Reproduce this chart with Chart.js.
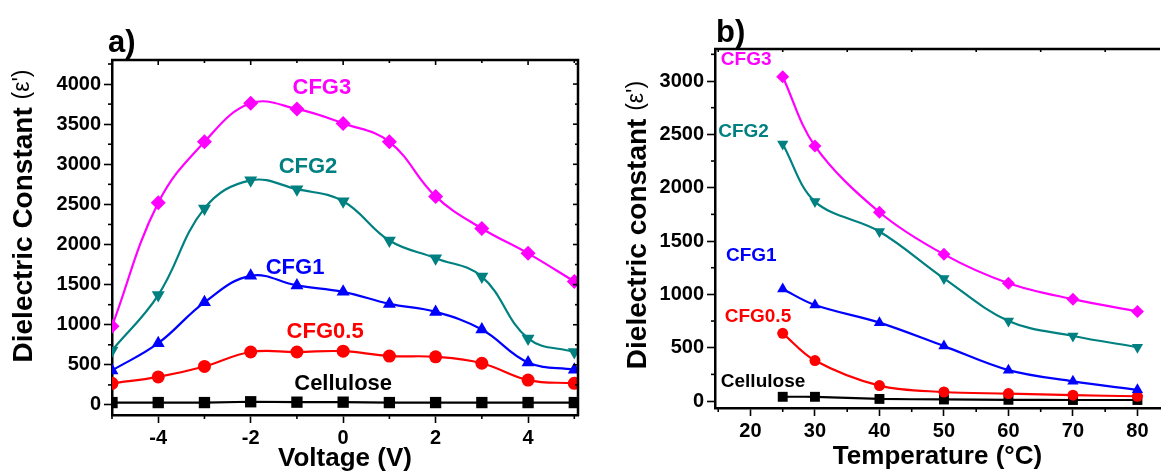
<!DOCTYPE html>
<html>
<head>
<meta charset="utf-8">
<script src="https://cdn.jsdelivr.net/npm/chart.js@4.4.1/dist/chart.umd.min.js"></script>
<style>
  body { margin: 0; background: #fff; width: 1167px; height: 474px; overflow: hidden; position: relative;
         font-family: "Liberation Sans", Arial, sans-serif; }
  .pane { position: absolute; top: 0; }
  .tag { position: absolute; font-weight: bold; font-size: 31px; line-height: 1; color: #000; }
</style>
</head>
<body>
<div class="pane" style="left:0"><canvas id="voltCanvas" width="600" height="474"></canvas></div>
<div class="pane" style="left:600px"><canvas id="tempCanvas" width="567" height="474"></canvas></div>
<div class="tag" style="left:108px;top:26px">a)</div>
<div class="tag" style="left:716px;top:16px">b)</div>
<script>
// permittivity vs bias voltage
const voltages = [-5, -4, -3, -2, -1, 0, 1, 2, 3, 4, 5];
const voltTicks = [-4, -2, 0, 2, 4];
const voltMinor = [-5, -3, -1, 1, 3, 5];
const epsTicksV = [0, 500, 1000, 1500, 2000, 2500, 3000, 3500, 4000];
const epsMinorV = [250, 750, 1250, 1750, 2250, 2750, 3250, 3750, 4250];
const cfg3V = [980, 2520, 3280, 3760, 3690, 3510, 3280, 2600, 2200, 1890, 1540];
const cfg2V = [680, 1370, 2450, 2800, 2690, 2540, 2050, 1830, 1600, 830, 660];
const cfg1V = [430, 770, 1280, 1610, 1490, 1410, 1260, 1160, 940, 530, 440];
const cfg05V = [270, 350, 480, 660, 660, 670, 610, 600, 520, 310, 270];
const celluloseV = [30, 30, 30, 40, 35, 35, 30, 30, 30, 30, 30];

// permittivity vs temperature
const temps = [25, 30, 40, 50, 60, 70, 80];
const tempTicks = [20, 30, 40, 50, 60, 70, 80];
const tempMinor = [15, 25, 35, 45, 55, 65, 75];
const epsTicksT = [0, 500, 1000, 1500, 2000, 2500, 3000];
const epsMinorT = [250, 750, 1250, 1750, 2250, 2750, 3250];
const cfg3T = [3040, 2390, 1770, 1375, 1105, 955, 840];
const cfg2T = [2410, 1870, 1590, 1150, 750, 610, 505];
const cfg1T = [1050, 900, 735, 515, 290, 185, 105];
const cfg05T = [635, 380, 145, 85, 70, 55, 45];
const celluloseT = [40, 40, 20, 15, 12, 10, 10];

const FONT = '"Liberation Sans", Arial, sans-serif';
const MAGENTA = '#ff00ff', TEAL = '#008080', BLUE = '#0000ff', RED = '#ff0000', BLACK = '#000000';

function serie(xs, ys, cor, ponto, raio, tensao, giro) {
  return {
    data: xs.map((x, i) => ({ x: x, y: ys[i] })),
    borderColor: cor,
    backgroundColor: cor,
    borderWidth: 2.2,
    pointStyle: ponto,
    pointRadius: raio,
    pointRotation: giro || 0,
    pointBorderWidth: 0,
    tension: tensao,
  };
}

// frame lines on top/right plus minor and mirrored ticks
const molduraPlugin = {
  id: 'moldura',
  afterDraw(chart, args, opts) {
    const { ctx, chartArea: a, scales } = chart;
    const x = scales.x, y = scales.y;
    ctx.save();
    ctx.strokeStyle = '#000';
    ctx.lineWidth = 2.5;
    ctx.beginPath();
    ctx.moveTo(a.left - 1, a.top);
    ctx.lineTo(a.right, a.top);
    if (opts.direita) ctx.lineTo(a.right, a.bottom + 1);
    ctx.stroke();
    ctx.lineWidth = 1.6;
    const risco = (x1, y1, x2, y2) => { ctx.beginPath(); ctx.moveTo(x1, y1); ctx.lineTo(x2, y2); ctx.stroke(); };
    opts.xMaior.forEach(v => { const p = x.getPixelForValue(v); risco(p, a.top, p, a.top + 5); });
    opts.xMenor.forEach(v => {
      const p = x.getPixelForValue(v);
      if (p < a.left || p > a.right) return;
      risco(p, a.bottom, p, a.bottom + 4);
      risco(p, a.top, p, a.top + 3);
    });
    opts.yMenor.forEach(v => {
      const p = y.getPixelForValue(v);
      if (p < a.top) return;
      risco(a.left, p, a.left - 4, p);
      if (opts.direita) risco(a.right, p, a.right - 3, p);
    });
    if (opts.direita) opts.yMaior.forEach(v => { const p = y.getPixelForValue(v); risco(a.right, p, a.right - 5, p); });
    ctx.restore();
  }
};

// curve names written next to each curve
const rotulosPlugin = {
  id: 'rotulos',
  afterDatasetsDraw(chart, args, opts) {
    const { ctx, scales: { x, y } } = chart;
    ctx.save();
    ctx.font = 'bold ' + opts.tamanho + 'px ' + FONT;
    ctx.textBaseline = 'middle';
    ctx.textAlign = opts.alinhar;
    opts.itens.forEach(r => {
      ctx.fillStyle = r.cor;
      ctx.fillText(r.texto, x.getPixelForValue(r.x), y.getPixelForValue(r.y));
    });
    ctx.restore();
  }
};

// rotated y title: bold name followed by a lighter (ε')
const tituloYPlugin = {
  id: 'tituloY',
  afterDraw(chart, args, opts) {
    const ctx = chart.ctx;
    ctx.save();
    ctx.translate(opts.cx, opts.cy);
    ctx.rotate(-Math.PI / 2);
    ctx.fillStyle = '#000';
    ctx.textBaseline = 'middle';
    const f1 = 'bold ' + opts.tamanho + 'px ' + FONT;
    const f2 = opts.tamanho2 + 'px ' + FONT;
    ctx.font = f1;
    const w1 = ctx.measureText(opts.texto).width;
    ctx.font = f2;
    const w2 = ctx.measureText(opts.sufixo).width;
    let x0 = -(w1 + w2) / 2;
    ctx.font = f1;
    ctx.textAlign = 'left';
    ctx.fillText(opts.texto, x0, 0);
    ctx.font = f2;
    ctx.fillText(opts.sufixo, x0 + w1, -1);
    ctx.restore();
  }
};

function eixo(min, max, valores, extra) {
  return Object.assign({
    type: 'linear',
    min: min,
    max: max,
    afterBuildTicks: (s) => { s.ticks = valores.map(v => ({ value: v })); },
    grid: { drawOnChartArea: false, color: '#000', tickLength: 8, tickWidth: 1.6 },
    border: { display: true, color: '#000', width: 2.5 },
    ticks: {
      color: '#000', font: { family: FONT, size: 20, weight: 'bold' }, padding: 3, maxRotation: 0,
      callback: (v) => String(v),
    },
  }, extra);
}

new Chart(document.getElementById('voltCanvas'), {
  type: 'line',
  data: {
    datasets: [
      serie(voltages, cfg3V, MAGENTA, 'rectRot', 7.5, 0.4),
      serie(voltages, cfg2V, TEAL, 'triangle', 7.5, 0.4, 180),
      serie(voltages, cfg1V, BLUE, 'triangle', 7.5, 0.4),
      serie(voltages, cfg05V, RED, 'circle', 6.5, 0.4),
      serie(voltages, celluloseV, BLACK, 'rect', 8, 0),
    ]
  },
  options: {
    responsive: false,
    animation: false,
    events: [],
    layout: { padding: { top: 60, right: 22, left: 0, bottom: 0 } },
    scales: {
      x: eixo(-5, 5.08, voltTicks, {
        afterFit: (s) => { s.height = 59; },
        title: { display: true, text: 'Voltage (V)', color: '#000', font: { family: FONT, size: 26, weight: 'bold' }, padding: { top: 0, bottom: 0 } },
      }),
      y: eixo(-125, 4300, epsTicksV, { afterFit: (s) => { s.width = 112; } }),
    },
    plugins: {
      legend: { display: false },
      tooltip: { enabled: false },
      moldura: { direita: true, xMaior: voltTicks, xMenor: voltMinor, yMaior: epsTicksV, yMenor: epsMinorV },
      rotulos: {
        tamanho: 22, alinhar: 'center',
        itens: [
          { texto: 'CFG3', cor: MAGENTA, x: -0.46, y: 3950 },
          { texto: 'CFG2', cor: TEAL, x: -0.76, y: 2970 },
          { texto: 'CFG1', cor: BLUE, x: -1.04, y: 1710 },
          { texto: 'CFG0.5', cor: RED, x: -0.39, y: 910 },
          { texto: 'Cellulose', cor: BLACK, x: 0, y: 265 },
        ]
      },
      tituloY: { cx: 24, cy: 216, texto: 'Dielectric Constant ', sufixo: "(ε')", tamanho: 28, tamanho2: 23 },
    }
  },
  plugins: [molduraPlugin, rotulosPlugin, tituloYPlugin]
});

new Chart(document.getElementById('tempCanvas'), {
  type: 'line',
  data: {
    datasets: [
      serie(temps, cfg3T, MAGENTA, 'rectRot', 6.5, 0.35),
      serie(temps, cfg2T, TEAL, 'triangle', 6.5, 0.35, 180),
      serie(temps, cfg1T, BLUE, 'triangle', 6.5, 0.35),
      serie(temps, cfg05T, RED, 'circle', 5.5, 0.35),
      serie(temps, celluloseT, BLACK, 'rect', 7, 0.2),
    ]
  },
  options: {
    responsive: false,
    animation: false,
    events: [],
    layout: { padding: { top: 49, right: 0, left: 0, bottom: 0 } },
    scales: {
      x: eixo(14.5, 83.5, tempTicks, {
        afterFit: (s) => { s.height = 66; },
        title: { display: true, text: 'Temperature (°C)', color: '#000', font: { family: FONT, size: 26, weight: 'bold' }, padding: { top: 0, bottom: 2 } },
      }),
      y: eixo(-65, 3300, epsTicksT, { afterFit: (s) => { s.width = 115; } }),
    },
    plugins: {
      legend: { display: false },
      tooltip: { enabled: false },
      moldura: { direita: false, xMaior: [], xMenor: tempMinor, yMaior: epsTicksT, yMenor: epsMinorT },
      rotulos: {
        tamanho: 19, alinhar: 'left',
        itens: [
          { texto: 'CFG3', cor: MAGENTA, x: 15.4, y: 3200 },
          { texto: 'CFG2', cor: TEAL, x: 15.0, y: 2520 },
          { texto: 'CFG1', cor: BLUE, x: 16.2, y: 1360 },
          { texto: 'CFG0.5', cor: RED, x: 16.0, y: 787 },
          { texto: 'Cellulose', cor: BLACK, x: 15.4, y: 180 },
        ]
      },
      tituloY: { cx: 38, cy: 225, texto: 'Dielectric constant ', sufixo: "(ε')", tamanho: 28, tamanho2: 23 },
    }
  },
  plugins: [molduraPlugin, rotulosPlugin, tituloYPlugin]
});
</script>
</body>
</html>
